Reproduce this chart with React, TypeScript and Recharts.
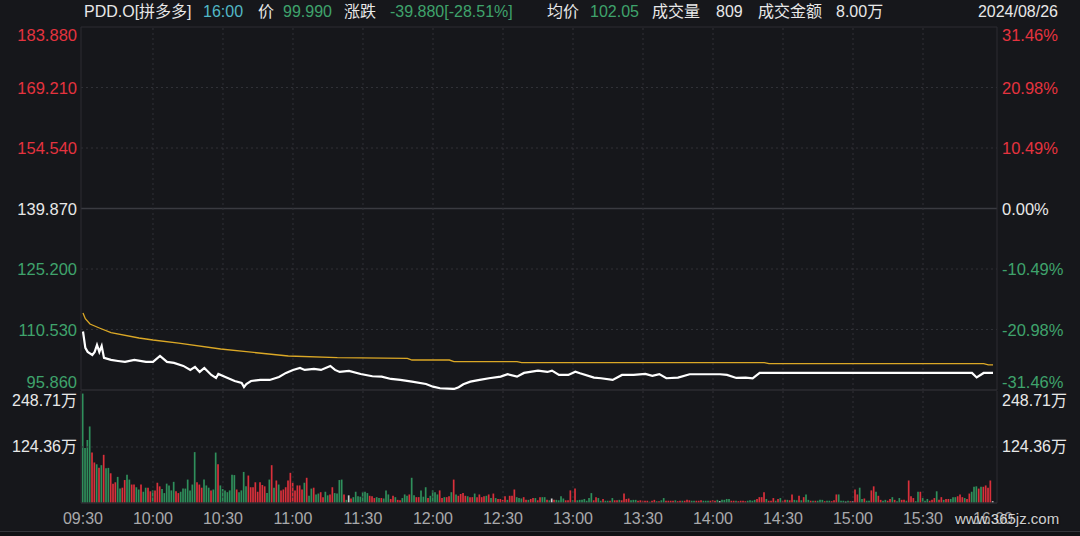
import { ComposedChart, Line, Bar, Cell, XAxis, YAxis, ReferenceLine } from 'recharts';

// price panel: minute since 09:30 -> last price
const priceLine: [number, number][] = [
  [0, 110.04], [1, 106.07], [2, 105.1], [4, 104.37], [5, 105.1], [6, 106.8], [7, 105.1], [8, 106.56],
  [9, 103.64], [12, 103.16], [15, 102.9], [18, 102.67], [22, 103.16], [27, 102.67], [30, 102.67],
  [33, 104.13], [36, 102.67], [39, 102.43], [43, 101.7], [46, 100.73], [48, 101.46], [50, 100.24],
  [52, 101.2], [55, 99.5], [57, 98.78], [58, 99.75], [61, 99.0], [65, 98.05], [68, 97.57], [69, 96.6],
  [70, 97.3], [72, 98.05], [76, 98.3], [80, 98.3], [84, 99.0], [87, 100.0], [90, 100.73], [93, 101.2],
  [95, 100.73], [99, 100.97], [102, 100.73], [106, 101.7], [108, 100.73], [110, 100.24], [114, 100.5],
  [119, 99.75], [124, 99.2], [128, 99.1], [132, 98.54], [136, 98.3], [141, 97.88], [147, 97.32],
  [150, 96.67], [153, 96.28], [159, 96.11], [161, 96.52], [163, 97.25], [166, 97.88], [170, 98.3],
  [174, 98.71], [179, 99.1], [182, 99.68], [186, 99.1], [189, 100.0], [195, 100.56], [199, 100.24],
  [201, 100.56], [204, 99.51], [208, 99.51], [211, 100.31], [213, 99.92], [219, 98.85], [222, 98.71],
  [227, 98.3], [231, 99.51], [236, 99.51], [241, 99.75], [244, 99.3], [247, 99.7], [250, 98.71],
  [255, 98.85], [260, 99.68], [266, 99.68], [273, 99.68], [276, 99.51], [280, 98.78], [284, 98.85],
  [287, 98.7], [290, 99.99], [381, 99.99], [383, 98.9], [386, 99.99], [390, 99.99],
];

// average price line
const avgLine: [number, number][] = [
  [0, 114.53], [1, 113.15], [3, 111.86], [7, 110.89], [12, 109.75], [24, 108.47], [30, 107.98],
  [41, 107.25], [59, 105.8], [70, 105.15], [88, 104.1], [109, 103.69], [139, 103.55], [141, 103.13],
  [157, 103.13], [159, 102.72], [186, 102.72], [188, 102.5], [292, 102.5], [294, 102.24],
  [386, 102.24], [388, 101.95], [390, 101.95],
];

// volume per minute, in 万
const volume = [
  243, 122, 140, 170, 112, 90, 86, 78, 84, 107,
  77, 78, 66, 43, 46, 58, 32, 34, 51, 63,
  52, 41, 41, 35, 30, 41, 25, 34, 34, 26,
  28, 28, 45, 37, 31, 22, 43, 39, 28, 47,
  26, 22, 25, 32, 32, 52, 28, 41, 113, 46,
  41, 34, 52, 39, 34, 28, 30, 112, 86, 39,
  31, 28, 24, 28, 63, 62, 30, 24, 28, 69,
  37, 61, 35, 35, 46, 25, 46, 40, 37, 22,
  52, 84, 34, 50, 41, 28, 30, 35, 50, 67,
  45, 28, 39, 39, 30, 45, 56, 16, 32, 34,
  19, 21, 24, 13, 25, 17, 19, 35, 22, 21,
  51, 52, 19, 7, 17, 10, 13, 25, 15, 14,
  24, 25, 22, 16, 15, 11, 13, 11, 11, 10,
  28, 19, 9, 16, 13, 7, 6, 11, 19, 16,
  19, 56, 17, 13, 13, 28, 14, 35, 11, 16,
  28, 24, 19, 28, 11, 13, 13, 15, 24, 52,
  19, 16, 20, 22, 16, 15, 13, 13, 21, 13,
  19, 13, 15, 16, 19, 11, 21, 11, 9, 9,
  7, 15, 7, 16, 16, 30, 13, 11, 10, 13,
  7, 7, 9, 11, 11, 6, 13, 13, 13, 7,
  6, 10, 7, 7, 6, 15, 10, 6, 6, 28,
  6, 32, 6, 7, 7, 9, 5, 11, 22, 6,
  13, 11, 5, 9, 5, 5, 5, 11, 6, 6,
  7, 6, 21, 9, 10, 6, 7, 7, 5, 6,
  5, 5, 5, 3, 5, 7, 4, 4, 6, 11,
  5, 5, 5, 5, 6, 4, 5, 5, 5, 7,
  6, 5, 5, 5, 5, 6, 5, 5, 5, 5,
  6, 5, 7, 4, 7, 7, 9, 9, 5, 5,
  5, 4, 5, 5, 4, 5, 6, 5, 7, 9,
  13, 13, 24, 9, 5, 5, 11, 5, 9, 11,
  5, 7, 7, 6, 19, 7, 6, 16, 6, 13,
  19, 7, 5, 5, 5, 5, 7, 7, 4, 5,
  5, 4, 6, 19, 19, 5, 5, 3, 5, 4,
  4, 30, 19, 34, 9, 10, 5, 5, 28, 37,
  25, 16, 7, 5, 7, 5, 9, 13, 7, 4,
  11, 7, 7, 5, 50, 15, 11, 4, 25, 25,
  11, 5, 9, 5, 7, 11, 26, 7, 13, 7,
  9, 9, 9, 13, 13, 15, 19, 13, 11, 9,
  21, 25, 36, 37, 32, 36, 36, 39, 34, 50, 4,
];

// G = down (green), R = up (red), W = flat
const volColor =
  'GGGGRRGRGR' + 'GGRRRGGRRG' + 'GRRGGRGGRR' + 'GRRRGGGGGG' + 'RRGGGGGGGR' +
  'RRGGGRGGRG' + 'GGGGGGRGGG' + 'GRRRRRRRRG' + 'GRGRGRRRRR' + 'RRRRRGRGGR' +
  'GGRRGGRRGG' + 'GGRGWRGGGG' + 'GGGRRRGGRG' + 'GGRRGRRGGG' + 'RGGRRGGGRG' +
  'GGGRRGRRGR' + 'GRRRRGRRGR' + 'RRRGRGRGRR' + 'RRGRRRGGGR' + 'RGRRGRRGGR' +
  'GWRGGGGRRR' + 'GRGGGGGGGR' + 'RGGRGGRGRR' + 'GRRRRGGGRR' + 'RRRGRRGRGG' +
  'RRRRGRRGRR' + 'RGGRRRGGGR' + 'RRGWGGGGRR' + 'GRRRRGGGGR' + 'RRRGRRRGRG' +
  'RRGRRGGRGR' + 'GGRGRGGGRG' + 'GRRRGGGWGR' + 'WRRGGRGGRR' + 'GRRGGRRGRG' +
  'GRRGRRRGGR' + 'GGGRRRGRRG' + 'RRGGGRRRGR' + 'RGGGRGRRRRW';

const priceTicks = [183.88, 169.21, 154.54, 139.87, 125.2, 110.53, 95.86];
const volTicks = [248.71, 124.36];
const timeTicks = [0, 30, 60, 90, 120, 150, 180, 210, 240, 270, 300, 330, 360, 390];
const timeLabels = ['09:30', '10:00', '10:30', '11:00', '11:30', '12:00', '12:30', '13:00', '13:30', '14:00', '14:30', '15:00', '15:30', '16:00'];
const PREV_CLOSE = 139.87;

const FONT = "'Liberation Sans', 'Noto Sans CJK SC', sans-serif";
const BG = '#16171b';
const FRAME = '#2c2d32';
const GRID = '#303137';
const RED = '#e5333f';
const GREEN = '#3fa36c';
const BAR_RED = '#d9303b';
const BAR_GREEN = '#2f8f5b';
const WHITE = '#e8e8e8';
const X_DOMAIN: [number, number] = [-0.857, 391.714];

const priceData = priceLine.map(([t, p]) => ({ t, p }));
const avgData = avgLine.map(([t, p]) => ({ t, p }));
const volData = volume.map((v, i) => ({ t: i, v, c: volColor[i] }));

const priceColor = (v: number) => (v > PREV_CLOSE + 0.001 ? RED : v < PREV_CLOSE - 0.001 ? GREEN : WHITE);

function PriceTick(props: any) {
  const { y, payload, side } = props;
  const v = payload.value as number;
  let dy = 0;
  if (v === priceTicks[0]) dy = 8;
  if (v === priceTicks[priceTicks.length - 1]) dy = -8;
  const pct = ((v - PREV_CLOSE) / PREV_CLOSE) * 100;
  const text = side === 'left' ? v.toFixed(3) : `${pct.toFixed(2)}%`;
  return (
    <text
      x={side === 'left' ? 77 : 1002}
      y={y + dy}
      textAnchor={side === 'left' ? 'end' : 'start'}
      dominantBaseline="central"
      fill={priceColor(v)}
      fontSize={16.5}
      fontFamily={FONT}
    >
      {text}
    </text>
  );
}

function VolTick(props: any) {
  const { y, payload, side } = props;
  const v = payload.value as number;
  const dy = v === volTicks[0] ? 9 : 0;
  return (
    <text
      x={side === 'left' ? 77 : 1002}
      y={y + dy}
      textAnchor={side === 'left' ? 'end' : 'start'}
      dominantBaseline="central"
      fill={WHITE}
      fontSize={16}
      fontFamily={FONT}
    >
      {`${v.toFixed(2)}万`}
    </text>
  );
}

function TimeTick(props: any) {
  const { x, payload } = props;
  const idx = timeTicks.indexOf(payload.value);
  return (
    <text x={x} y={127} textAnchor="middle" dominantBaseline="central" fill="#a9a9ab" fontSize={16} fontFamily={FONT}>
      {timeLabels[idx]}
    </text>
  );
}

const header: { text: string; left: number; color: string }[] = [
  { text: 'PDD.O[拼多多]', left: 84, color: WHITE },
  { text: '16:00', left: 203, color: '#52b8c6' },
  { text: '价', left: 258, color: WHITE },
  { text: '99.990', left: 283, color: GREEN },
  { text: '涨跌', left: 344, color: WHITE },
  { text: '-39.880[-28.51%]', left: 390, color: GREEN },
  { text: '均价', left: 547, color: WHITE },
  { text: '102.05', left: 590, color: GREEN },
  { text: '成交量', left: 652, color: WHITE },
  { text: '809', left: 716, color: WHITE },
  { text: '成交金额', left: 758, color: WHITE },
  { text: '8.00万', left: 836, color: WHITE },
];

const innerTimes = timeTicks.slice(1, -1);

export default function App() {
  return (
    <div
      style={{
        position: 'fixed',
        left: 0,
        top: 0,
        width: 1080,
        height: 536,
        background: BG,
        overflow: 'hidden',
        fontFamily: FONT,
      }}
    >
      {header.map((h) => (
        <span
          key={h.text}
          style={{ position: 'absolute', left: h.left, top: 0, lineHeight: '24px', fontSize: 16, color: h.color, whiteSpace: 'nowrap' }}
        >
          {h.text}
        </span>
      ))}
      <span style={{ position: 'absolute', right: 22, top: 0, lineHeight: '24px', fontSize: 16, color: WHITE }}>
        2024/08/26
      </span>

      {/* price panel */}
      <div style={{ position: 'absolute', left: 0, top: 0 }}>
        <ComposedChart width={1080} height={391} margin={{ top: 27, right: 0, bottom: 1, left: 0 }}>
          <XAxis dataKey="t" type="number" domain={X_DOMAIN} allowDataOverflow hide />
          <YAxis
            yAxisId="l"
            orientation="left"
            width={81}
            domain={[95.86, 183.88]}
            ticks={priceTicks}
            interval={0}
            allowDataOverflow
            tickLine={false}
            axisLine={{ stroke: FRAME }}
            tick={(p: any) => <PriceTick {...p} side="left" />}
          />
          <YAxis
            yAxisId="r"
            orientation="right"
            width={83}
            domain={[95.86, 183.88]}
            ticks={priceTicks}
            interval={0}
            allowDataOverflow
            tickLine={false}
            axisLine={{ stroke: FRAME }}
            tick={(p: any) => <PriceTick {...p} side="right" />}
          />
          {priceTicks.slice(1, -1).map((v) => (
            <ReferenceLine
              key={v}
              yAxisId="l"
              y={v}
              stroke={v === PREV_CLOSE ? '#3a3b41' : GRID}
              strokeWidth={v === PREV_CLOSE ? 1.5 : 1}
              strokeDasharray={v === PREV_CLOSE ? undefined : '2 3'}
            />
          ))}
          <ReferenceLine yAxisId="l" y={183.88} stroke={FRAME} />
          <ReferenceLine yAxisId="l" y={95.86} stroke={FRAME} strokeWidth={1.5} />
          {innerTimes.map((t) => (
            <ReferenceLine key={t} yAxisId="l" x={t} stroke={GRID} strokeDasharray="2 3" />
          ))}
          <Line
            yAxisId="l"
            data={avgData}
            dataKey="p"
            type="linear"
            stroke="#dba826"
            strokeWidth={1.3}
            dot={false}
            isAnimationActive={false}
          />
          <Line
            yAxisId="l"
            data={priceData}
            dataKey="p"
            type="linear"
            stroke="#ffffff"
            strokeWidth={2.2}
            dot={false}
            isAnimationActive={false}
          />
        </ComposedChart>
      </div>

      {/* volume panel */}
      <div style={{ position: 'absolute', left: 0, top: 391 }}>
        <ComposedChart width={1080} height={145} data={volData} margin={{ top: 0, right: 0, bottom: 5, left: 0 }}>
          <XAxis
            dataKey="t"
            type="number"
            domain={X_DOMAIN}
            allowDataOverflow
            ticks={timeTicks}
            height={28}
            axisLine={false}
            tickLine={false}
            tick={(p: any) => <TimeTick {...p} />}
            interval={0}
          />
          <YAxis
            yAxisId="l"
            orientation="left"
            width={81}
            domain={[0, 248.71]}
            ticks={volTicks}
            interval={0}
            allowDataOverflow
            tickLine={false}
            axisLine={{ stroke: FRAME }}
            tick={(p: any) => <VolTick {...p} side="left" />}
          />
          <YAxis
            yAxisId="r"
            orientation="right"
            width={83}
            domain={[0, 248.71]}
            ticks={volTicks}
            interval={0}
            allowDataOverflow
            tickLine={false}
            axisLine={{ stroke: FRAME }}
            tick={(p: any) => <VolTick {...p} side="right" />}
          />
          <ReferenceLine yAxisId="l" y={124.36} stroke={GRID} strokeDasharray="2 3" />
          {innerTimes.map((t) => (
            <ReferenceLine key={t} yAxisId="l" x={t} stroke={GRID} strokeDasharray="2 3" />
          ))}
          <Bar yAxisId="l" dataKey="v" barSize={1.7} isAnimationActive={false}>
            {volData.map((d) => (
              <Cell key={d.t} fill={d.c === 'R' ? BAR_RED : d.c === 'G' ? BAR_GREEN : '#cfcfcf'} />
            ))}
          </Bar>
          <ReferenceLine yAxisId="l" y={0} stroke={FRAME} strokeWidth={1.5} />
        </ComposedChart>
      </div>

      <div style={{ position: 'absolute', left: 0, top: 531, width: 1080, height: 1, background: '#34353a' }} />
      <div style={{ position: 'absolute', left: 0, top: 532, width: 1080, height: 4, background: '#111215' }} />

      <span
        style={{
          position: 'absolute',
          left: 955,
          top: 510,
          fontSize: 15,
          lineHeight: '18px',
          color: '#f0f0f0',
          opacity: 0.85,
          textShadow: '0 0 2px #000',
        }}
      >
        www.365jz.com
      </span>
    </div>
  );
}
